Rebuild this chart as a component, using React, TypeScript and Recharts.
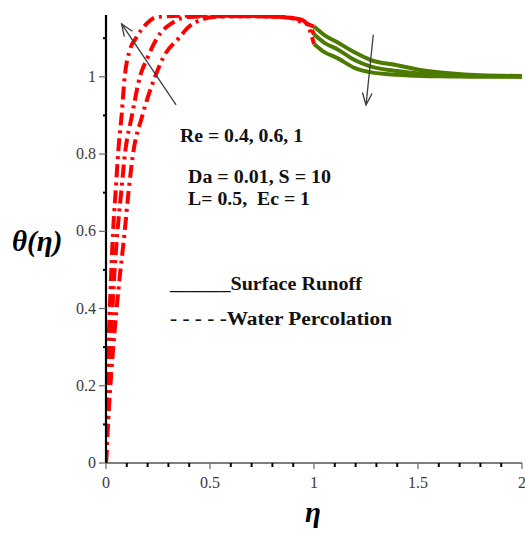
import { LineChart, Line, XAxis, YAxis, ReferenceLine } from "recharts";

// η / θ samples, Water Percolation (dashed, 0 ≤ η ≤ 1) and Surface Runoff (solid, 1 ≤ η ≤ 2)
const reValues = ["0.4", "0.6", "1"];

const etaPercRe1 = [0, 0.005, 0.012, 0.022, 0.034, 0.046, 0.058, 0.075, 0.09, 0.115, 0.144, 0.2, 0.245, 0.4, 0.6, 0.8, 0.9, 0.95, 0.98, 1.0];
const thetaPercRe1 = [0, 0.15, 0.3, 0.45, 0.6, 0.7, 0.8, 0.9, 1.0, 1.07, 1.1, 1.14, 1.155, 1.158, 1.158, 1.156, 1.152, 1.145, 1.12, 1.085];

const etaPercRe06 = [0, 0.01, 0.022, 0.036, 0.055, 0.073, 0.091, 0.125, 0.163, 0.2, 0.245, 0.32, 0.4, 0.6, 0.8, 0.9, 0.95, 0.98, 1.0];
const thetaPercRe06 = [0, 0.15, 0.3, 0.45, 0.6, 0.7, 0.8, 0.9, 1.0, 1.05, 1.1, 1.14, 1.155, 1.157, 1.156, 1.152, 1.145, 1.13, 1.11];

const etaPercRe04 = [0, 0.015, 0.035, 0.06, 0.09, 0.108, 0.13, 0.175, 0.236, 0.275, 0.35, 0.4, 0.47, 0.54, 0.7, 0.88, 0.94, 1.0];
const thetaPercRe04 = [0, 0.15, 0.3, 0.45, 0.6, 0.7, 0.8, 0.9, 1.0, 1.05, 1.1, 1.13, 1.15, 1.156, 1.157, 1.153, 1.142, 1.13];

const etaRunoff = [1.0, 1.05, 1.11, 1.2, 1.27, 1.4, 1.52, 1.65, 1.8, 2.0];
const thetaRunoffRe04 = [1.13, 1.108, 1.09, 1.062, 1.044, 1.03, 1.017, 1.009, 1.004, 1.002];
const thetaRunoffRe06 = [1.11, 1.088, 1.072, 1.042, 1.027, 1.015, 1.008, 1.004, 1.002, 1.001];
const thetaRunoffRe1 = [1.085, 1.064, 1.049, 1.022, 1.012, 1.005, 1.002, 1.001, 1.0, 1.0];

const xTicks = [0, 0.1, 0.2, 0.3, 0.4, 0.5, 0.6, 0.7, 0.8, 0.9, 1, 1.1, 1.2, 1.3, 1.4, 1.5, 1.6, 1.7, 1.8, 1.9, 2];
const xTickLabels = ["0", "0.5", "1", "1.5", "2"];
const yTicks = [0, 0.1, 0.2, 0.3, 0.4, 0.5, 0.6, 0.7, 0.8, 0.9, 1, 1.1];
const yTickLabels = ["0", "0.2", "0.4", "0.6", "0.8", "1"];

// arrow annotations in data coordinates: [tail, head]
const percArrow = [{ x: 0.337, y: 0.927 }, { x: 0.075, y: 1.137 }];
const runoffArrow = [{ x: 1.285, y: 1.109 }, { x: 1.25, y: 0.927 }];

const zip = (eta: number[], theta: number[]) => eta.map((e, i) => ({ eta: e, theta: theta[i] }));

const percSeries = [
  zip(etaPercRe04, thetaPercRe04),
  zip(etaPercRe06, thetaPercRe06),
  zip(etaPercRe1, thetaPercRe1),
];
const runoffSeries = [
  zip(etaRunoff, thetaRunoffRe04),
  zip(etaRunoff, thetaRunoffRe06),
  zip(etaRunoff, thetaRunoffRe1),
];

const SERIF = '"Liberation Serif", "Times New Roman", serif';
const RED = "#ff0000";
const GREEN = "#4d7a00";

const fmt = (v: number) => String(Math.round(v * 10) / 10);

function XTick(props: any) {
  const { x, y, payload } = props;
  const label = fmt(payload.value);
  const major = xTickLabels.includes(label);
  return (
    <g>
      <line x1={x} x2={x} y1={y} y2={y + (major ? 6 : 4)} stroke={major ? "#666" : "#000"} strokeWidth={major ? 1.2 : 2} />
      {major && (
        <text x={x} y={y + 25} textAnchor="middle" fontFamily={SERIF} fontSize={16} fill="#3a3a3a">
          {label}
        </text>
      )}
    </g>
  );
}

function YTick(props: any) {
  const { x, y, payload } = props;
  const label = fmt(payload.value);
  const major = yTickLabels.includes(label);
  return (
    <g>
      <line x1={x} x2={x - (major ? 7 : 3)} y1={y} y2={y} stroke={major ? "#666" : "#000"} strokeWidth={major ? 1.2 : 2} />
      {major && (
        <text x={x - 10} y={y + 5} textAnchor="end" fontFamily={SERIF} fontSize={16} fill="#3a3a3a">
          {label}
        </text>
      )}
    </g>
  );
}

function Arrow(props: any) {
  const { x1, y1, x2, y2 } = props;
  const ang = Math.atan2(y2 - y1, x2 - x1);
  const len = 13;
  const spread = 0.38;
  const ax1 = x2 - len * Math.cos(ang - spread);
  const ay1 = y2 - len * Math.sin(ang - spread);
  const ax2 = x2 - len * Math.cos(ang + spread);
  const ay2 = y2 - len * Math.sin(ang + spread);
  return (
    <g stroke="#3c3c3c" strokeWidth={1.3} fill="none">
      <line x1={x1} y1={y1} x2={x2} y2={y2} />
      <polyline points={`${ax1},${ay1} ${x2},${y2} ${ax2},${ay2}`} />
    </g>
  );
}

export default function App() {
  return (
    <div style={{ position: "absolute", left: 0, top: 0, width: 525, height: 533, background: "#fff" }}>
      <LineChart width={525} height={533} margin={{ top: 15, right: 3, left: 0, bottom: 0 }}>
        <XAxis
          type="number"
          dataKey="eta"
          domain={[0, 2]}
          ticks={xTicks}
          interval={0}
          height={70}
          tickSize={0}
          tickMargin={0}
          tickLine={false}
          axisLine={{ stroke: "#555", strokeWidth: 1.5 }}
          tick={<XTick />}
          allowDataOverflow
        />
        <YAxis
          type="number"
          dataKey="theta"
          domain={[0, 1.16]}
          ticks={yTicks}
          interval={0}
          width={106}
          tickSize={0}
          tickMargin={0}
          tickLine={false}
          axisLine={{ stroke: "#000", strokeWidth: 2.2 }}
          tick={<YTick />}
          allowDataOverflow
        />
        {runoffSeries.map((d, i) => (
          <Line
            key={`runoff-${reValues[i]}`}
            data={d}
            dataKey="theta"
            type="monotone"
            stroke={GREEN}
            strokeWidth={4}
            dot={false}
            activeDot={false}
            isAnimationActive={false}
          />
        ))}
        {percSeries.map((d, i) => (
          <Line
            key={`perc-${reValues[i]}`}
            data={d}
            dataKey="theta"
            type="monotone"
            stroke={RED}
            strokeWidth={4}
            strokeDasharray="13 5 3 5"
            dot={false}
            activeDot={false}
            isAnimationActive={false}
          />
        ))}
        <ReferenceLine segment={percArrow} shape={<Arrow />} ifOverflow="visible" />
        <ReferenceLine segment={runoffArrow} shape={<Arrow />} ifOverflow="visible" />
      </LineChart>
      <svg
        width={525}
        height={533}
        style={{ position: "absolute", left: 0, top: 0, pointerEvents: "none" }}
        fontFamily={SERIF}
        fontWeight="bold"
      >
        <text x={12} y={251} fontSize={29} fontStyle="italic">θ(η)</text>
        <text x={313} y={522} fontSize={29} fontStyle="italic" textAnchor="middle">η</text>
        <g fontSize={18} fill="#111">
          <text x={180} y={142} textLength={123} lengthAdjust="spacingAndGlyphs">Re = 0.4, 0.6, 1</text>
          <text x={188} y={183} textLength={143} lengthAdjust="spacingAndGlyphs">Da = 0.01, S = 10</text>
          <text x={188} y={205} textLength={122} lengthAdjust="spacingAndGlyphs">{"L= 0.5,\u00a0\u00a0Ec = 1"}</text>
          <text x={170} y={290} textLength={192} lengthAdjust="spacingAndGlyphs">______Surface Runoff</text>
          <text x={170} y={325} textLength={222} lengthAdjust="spacingAndGlyphs">- - - - -Water Percolation</text>
        </g>
      </svg>
    </div>
  );
}
